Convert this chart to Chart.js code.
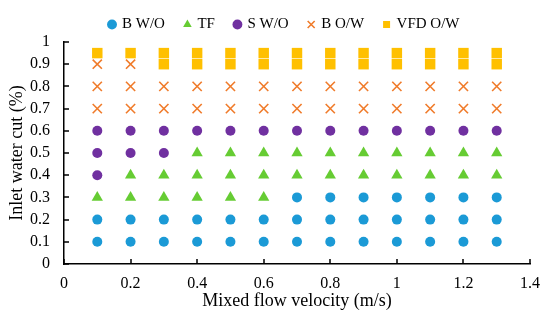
<!DOCTYPE html>
<html>
<head>
<meta charset="utf-8">
<script src="https://cdn.jsdelivr.net/npm/chart.js@4.4.1/dist/chart.umd.min.js"></script>
<style>
  html, body { margin: 0; padding: 0; background: #fff; }
  #wrap { width: 550px; height: 320px; }
</style>
</head>
<body>
<div id="wrap"><canvas id="chart1" width="550" height="320"></canvas></div>
<script>
// mixed flow velocity (m/s) for each column of points
let velocities = [0.1, 0.2, 0.3, 0.4, 0.5, 0.6, 0.7, 0.8, 0.9, 1.0, 1.1, 1.2, 1.3];

// inlet water cut values observed per velocity, one list per flow pattern
let bwoCuts = [[0.1, 0.2], [0.1, 0.2], [0.1, 0.2], [0.1, 0.2], [0.1, 0.2], [0.1, 0.2],
               [0.1, 0.2, 0.3], [0.1, 0.2, 0.3], [0.1, 0.2, 0.3], [0.1, 0.2, 0.3],
               [0.1, 0.2, 0.3], [0.1, 0.2, 0.3], [0.1, 0.2, 0.3]];
let tfCuts = [[0.3], [0.3, 0.4], [0.3, 0.4], [0.3, 0.4, 0.5], [0.3, 0.4, 0.5], [0.3, 0.4, 0.5],
              [0.4, 0.5], [0.4, 0.5], [0.4, 0.5], [0.4, 0.5], [0.4, 0.5], [0.4, 0.5], [0.4, 0.5]];
let swoCuts = [[0.4, 0.5, 0.6], [0.5, 0.6], [0.5, 0.6], [0.6], [0.6], [0.6], [0.6],
               [0.6], [0.6], [0.6], [0.6], [0.6], [0.6]];
let bowCuts = [[0.7, 0.8, 0.9], [0.7, 0.8, 0.9], [0.7, 0.8], [0.7, 0.8], [0.7, 0.8], [0.7, 0.8],
               [0.7, 0.8], [0.7, 0.8], [0.7, 0.8], [0.7, 0.8], [0.7, 0.8], [0.7, 0.8], [0.7, 0.8]];
let vfdCuts = [[0.95], [0.95], [0.9, 0.95], [0.9, 0.95], [0.9, 0.95], [0.9, 0.95], [0.9, 0.95],
               [0.9, 0.95], [0.9, 0.95], [0.9, 0.95], [0.9, 0.95], [0.9, 0.95], [0.9, 0.95]];

let seriesNames = ["B W/O", "TF", "S W/O", "B O/W", "VFD O/W"];

let xTicks = [0, 0.2, 0.4, 0.6, 0.8, 1, 1.2, 1.4];
let yTicks = [0, 0.1, 0.2, 0.3, 0.4, 0.5, 0.6, 0.7, 0.8, 0.9, 1];

function toPoints(cuts){
    let pts = [];
    cuts.forEach((list, i) => {
        list.forEach(c => pts.push({x: velocities[i], y: c}));
    });
    return pts;
}

const serif = "'Liberation Serif', 'Times New Roman', serif";

// ticks pointing into the plot, like the original figure
const innerTicks = {
    id: 'innerTicks',
    afterDraw(chart){
        const ctx = chart.ctx;
        const xs = chart.scales.x, ys = chart.scales.y;
        ctx.save();
        ctx.strokeStyle = '#000';
        ctx.lineWidth = 1.5;
        ctx.beginPath();
        xTicks.forEach(v => {
            const px = Math.round(xs.getPixelForValue(v));
            ctx.moveTo(px, ys.bottom);
            ctx.lineTo(px, ys.bottom - 5);
        });
        yTicks.forEach(v => {
            const py = Math.round(ys.getPixelForValue(v));
            ctx.moveTo(xs.left, py);
            ctx.lineTo(xs.left + 5, py);
        });
        ctx.stroke();
        ctx.restore();
    }
};

const ctx = document.getElementById('chart1').getContext('2d');
const chart = new Chart(ctx, {
    type: 'scatter',
    data: {
        datasets: [
            {label: seriesNames[0], data: toPoints(bwoCuts), pointStyle: 'circle', pointRadius: 5,
             backgroundColor: '#1b9ad6', borderColor: '#1b9ad6', borderWidth: 0},
            {label: seriesNames[1], data: toPoints(tfCuts), pointStyle: 'triangle', pointRadius: 6.5,
             backgroundColor: '#66cc33', borderColor: '#66cc33', borderWidth: 0},
            {label: seriesNames[2], data: toPoints(swoCuts), pointStyle: 'circle', pointRadius: 5,
             backgroundColor: '#7030a0', borderColor: '#7030a0', borderWidth: 0},
            {label: seriesNames[3], data: toPoints(bowCuts), pointStyle: 'crossRot', pointRadius: 6.5,
             backgroundColor: '#f07b2a', borderColor: '#f07b2a', borderWidth: 1.6},
            {label: seriesNames[4], data: toPoints(vfdCuts), pointStyle: 'rect', pointRadius: 7.4,
             backgroundColor: '#ffc000', borderColor: '#ffc000', borderWidth: 0}
        ]
    },
    options: {
        responsive: false,
        animation: false,
        devicePixelRatio: 1,
        layout: {padding: {left: 30, right: 11, top: -3, bottom: 10}},
        plugins: {
            tooltip: {enabled: false},
            legend: {
                position: 'top',
                labels: {
                    usePointStyle: true,
                    boxWidth: 5,
                    boxHeight: 7,
                    padding: 20,
                    color: '#000',
                    font: {family: serif, size: 15}
                }
            }
        },
        scales: {
            x: {
                type: 'linear',
                min: 0, max: 1.4,
                afterBuildTicks: s => { s.ticks = xTicks.map(v => ({value: v})); },
                afterFit: s => { s.height = 46; },
                grid: {display: true, drawOnChartArea: false, drawTicks: false},
                border: {display: true, color: '#000', width: 1.5},
                ticks: {color: '#000', padding: 10, autoSkip: false, maxRotation: 0,
                        font: {family: serif, size: 16},
                        callback: v => String(Number(v.toFixed(1)))},
                title: {display: true, text: 'Mixed flow velocity (m/s)', color: '#000',
                        font: {family: serif, size: 18}, padding: {top: 0, bottom: -2}}
            },
            y: {
                type: 'linear',
                min: 0, max: 1,
                afterBuildTicks: s => { s.ticks = yTicks.map(v => ({value: v})); },
                afterFit: s => { s.width = 34; },
                grid: {display: true, drawOnChartArea: false, drawTicks: false},
                border: {display: true, color: '#000', width: 1.5},
                ticks: {color: '#000', padding: 14, autoSkip: false,
                        font: {family: serif, size: 16},
                        callback: v => String(Number(v.toFixed(1)))},
                title: {display: true, text: 'Inlet water cut (%)', color: '#000',
                        font: {family: serif, size: 18}, padding: {top: -24, bottom: 0}}
            }
        }
    },
    plugins: [innerTicks]
});
</script>
</body>
</html>
